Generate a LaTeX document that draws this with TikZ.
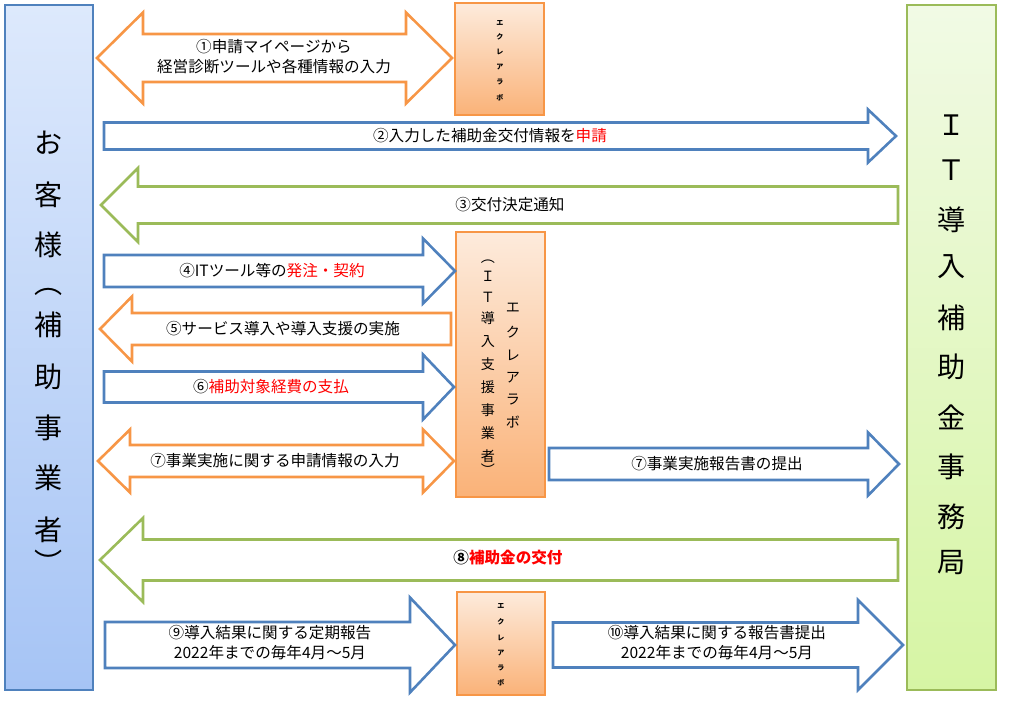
\documentclass[tikz,border=0pt]{standalone}
\usepackage{fontspec}
\setmainfont{Noto Sans CJK JP}
\usetikzlibrary{shadows}

\definecolor{lineblue}{RGB}{79,129,189}
\definecolor{lineorange}{RGB}{247,150,70}
\definecolor{linegreen}{RGB}{155,187,89}

\tikzset{
  blockline/.style={line width=0.078cm, fill=white, line join=miter},
  box/.style={draw, line width=0.04cm, inner sep=0pt,
    drop shadow={shadow xshift=0.04cm, shadow yshift=-0.04cm, opacity=0.25}},
  kyakubox/.style={box, draw=lineblue, top color={rgb,255:red,221;green,233;blue,252}, bottom color={rgb,255:red,166;green,196;blue,245}},
  jimubox/.style={box, draw=linegreen, top color={rgb,255:red,241;green,250;blue,229}, bottom color={rgb,255:red,214;green,245;blue,164}},
  eclabox/.style={box, draw=lineorange, top color={rgb,255:red,253;green,235;blue,220}, bottom color={rgb,255:red,250;green,178;blue,120}},
  msg/.style={font=\fontsize{13.3}{17}\selectfont, align=center, inner sep=1pt},
  bigchar/.style={font=\fontsize{24}{24}\selectfont, inner sep=0pt},
  midchar/.style={font=\fontsize{12}{12}\selectfont, inner sep=0pt},
  tinychar/.style={font=\fontsize{6}{6}\selectfont\bfseries, inner sep=0pt}
}

% block arrows: colour, x left, x head, x tip, y, shaft half, head half
\newcommand{\rblock}[7]{%
  \draw[blockline, draw=#1] (#2,#5-#6) -- (#3,#5-#6) -- (#3,#5-#7) -- (#4,#5) -- (#3,#5+#7) -- (#3,#5+#6) -- (#2,#5+#6) -- cycle;}
% colour, x tip, x head, x right, y, shaft half, head half
\newcommand{\lblock}[7]{%
  \draw[blockline, draw=#1] (#4,#5-#6) -- (#3,#5-#6) -- (#3,#5-#7) -- (#2,#5) -- (#3,#5+#7) -- (#3,#5+#6) -- (#4,#5+#6) -- cycle;}
% colour, x left tip, x left head, x right head, x right tip, y, shaft half, head half
\newcommand{\dblock}[8]{%
  \draw[blockline, draw=#1] (#2,#6) -- (#3,#6-#8) -- (#3,#6-#7) -- (#4,#6-#7) -- (#4,#6-#8) -- (#5,#6) -- (#4,#6+#8) -- (#4,#6+#7) -- (#3,#6+#7) -- (#3,#6+#8) -- cycle;}

\begin{document}
\begin{tikzpicture}[x=0.03cm, y=-0.03cm]
\useasboundingbox (0,0) rectangle (1024,704);

% boxes
\node[kyakubox, minimum width=2.64cm, minimum height=20.55cm] (kyaku) at (49,347.5) {};
\node[jimubox, minimum width=2.67cm, minimum height=20.55cm] (jimu) at (951.5,347.5) {};
\node[eclabox, minimum width=2.67cm, minimum height=3.36cm] (ecla1) at (499.5,59) {};
\node[eclabox, minimum width=2.67cm, minimum height=7.95cm] (ecla2) at (500.5,364.5) {};
\node[eclabox, minimum width=2.64cm, minimum height=3.09cm] (ecla3) at (501,643.5) {};

% vertical texts
\foreach \c/\y [count=\i] in {お/143, 客/195, 様/245, ︵/292, 補/325, 助/377, 事/428, 業/478, 者/530, ︶/562}
  \node[bigchar] (kyaku-\i) at (49,\y) {\c};
\foreach \c/\y [count=\i] in {Ｉ/125, Ｔ/170, 導/220, 入/267, 補/318, 助/367, 金/417, 事/467, 務/517, 局/563}
  \node[bigchar] (jimu-\i) at (952,\y) {\c};
\foreach \c/\y [count=\i] in {︵/262, Ｉ/276, Ｔ/297, 導/318, 入/342, 支/364, 援/387, 事/410, 業/433, 者/456, ︶/470}
  \node[midchar] (shien-\i) at (488,\y) {\c};
\foreach \c/\y [count=\i] in {エ/308, ク/332, レ/355, ア/378, ラ/400, ボ/422}
  \node[midchar] (ecla2-\i) at (513,\y) {\c};
\foreach \c/\y [count=\i] in {エ/23, ク/37, レ/52, ア/67, ラ/82, ボ/98}
  \node[tinychar] (ecla1-\i) at (500,\y) {\c};
\foreach \c/\y [count=\i] in {エ/606, ク/622, レ/638, ア/653, ラ/668, ボ/683}
  \node[tinychar] (ecla3-\i) at (501,\y) {\c};

% arrows
\dblock{lineorange}{97}{143}{406}{452}{58}{24}{45.5}
\rblock{lineblue}{104}{868}{896}{136}{13.5}{26.5}
\lblock{linegreen}{101}{138}{898}{205}{18.5}{37}
\rblock{lineblue}{104}{423}{455}{271}{16}{32.5}
\lblock{lineorange}{100}{132}{451}{329}{16}{32.5}
\rblock{lineblue}{104}{423}{454}{387}{15.5}{32.5}
\dblock{lineorange}{98}{130}{423}{454}{461}{16}{31.5}
\rblock{lineblue}{549}{868}{899}{464}{16}{31.5}
\lblock{linegreen}{100}{143}{898}{560}{20.5}{42}
\rblock{lineblue}{105}{410}{455}{645}{23}{47.5}
\rblock{lineblue}{553}{858}{903}{645}{22.5}{45}

% arrow texts
\node[msg] (m1) at (274,57) {①申請マイページから\\経営診断ツールや各種情報の入力};
\node[msg] (m2) at (490,136) {②入力した補助金交付情報を\textcolor{red}{申請}};
\node[msg] (m3) at (510,205) {③交付決定通知};
\node[msg] (m4) at (272,271) {④ITツール等の\textcolor{red}{発注・契約}};
\node[msg] (m5) at (283,329) {⑤サービス導入や導入支援の実施};
\node[msg] (m6) at (271,387) {⑥\textcolor{red}{補助対象経費の支払}};
\node[msg] (m7) at (275,461) {⑦事業実施に関する申請情報の入力};
\node[msg] (m7b) at (717,464) {⑦事業実施報告書の提出};
\node[msg, font=\fontsize{13.3}{17}\selectfont\bfseries] (m8) at (508,558) {⑧\textcolor{red}{補助金の交付}};
\node[msg] (m9) at (270,643) {⑨導入結果に関する定期報告\\2022年までの毎年4月～5月};
\node[msg] (m10) at (717,643) {⑩導入結果に関する報告書提出\\2022年までの毎年4月～5月};
\end{tikzpicture}
\end{document}
